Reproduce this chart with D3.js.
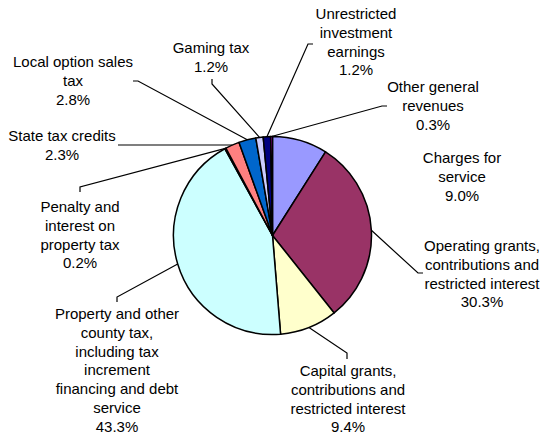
<!DOCTYPE html>
<html>
<head>
<meta charset="utf-8">
<script src="https://cdn.jsdelivr.net/npm/d3@7"></script>
<style>
  body { margin: 0; background: #fff; }
  text { font-family: "Liberation Sans", Arial, sans-serif; font-size: 15px; fill: #000; }
</style>
</head>
<body>
<svg width="542" height="435"></svg>
<script>
// slices, clockwise from 12 o'clock
var categories = [
  ["Charges for", "service"],
  ["Operating grants,", "contributions and", "restricted interest"],
  ["Capital grants,", "contributions and", "restricted interest"],
  ["Property and other", "county tax,", "including tax", "increment", "financing and debt", "service"],
  ["Penalty and", "interest on", "property tax"],
  ["State tax credits"],
  ["Local option sales", "tax"],
  ["Gaming tax"],
  ["Unrestricted", "investment", "earnings"],
  ["Other general", "revenues"]
];
var values = [9.0, 30.3, 9.4, 43.3, 0.2, 2.3, 2.8, 1.2, 1.2, 0.3];
var colors = ["#9999FF", "#993366", "#FFFFCC", "#CCFFFF", "#660066",
              "#FF8080", "#0066CC", "#CCCCFF", "#000080", "#FF00FF"];

// label placement: text centre x, first line y, and leader elbow points
var layout = [
  {x: 462, y: 164, leader: null},
  {x: 482, y: 252, leader: [[418, 273], [423, 273]]},
  {x: 348, y: 377, leader: [[347, 353], [347, 359]]},
  {x: 117, y: 320, leader: [[117, 297], [117, 302]]},
  {x: 80, y: 213, leader: [[80, 187], [80, 192]]},
  {x: 62, y: 142, leader: [[118, 145]]},
  {x: 73, y: 68, leader: [[138, 81], [133, 81]]},
  {x: 211, y: 54, leader: [[212, 84], [212, 79]]},
  {x: 356, y: 20, leader: [[308, 44], [313, 44]]},
  {x: 433, y: 93, leader: [[382, 106], [387, 106]]}
];

var svg = d3.select("svg"),
  cx = 272.5,
  cy = 235.5,
  radius = 99,
  lineH = 18.8;

var pie = d3.pie().sort(null).value(function(d) { return d; });
var arcs = pie(values);

var arc = d3.arc().innerRadius(0).outerRadius(radius);

var g = svg.append("g")
  .attr("transform", "translate(" + cx + "," + cy + ")");

g.selectAll("path.slice")
  .data(arcs)
  .enter()
  .append("path")
  .attr("class", "slice")
  .attr("d", arc)
  .attr("fill", function(d, i) { return colors[i]; })
  .attr("stroke", "#000")
  .attr("stroke-width", 1.5)
  .attr("stroke-linejoin", "round");

// leader lines from slice edge
arcs.forEach(function(d, i) {
  var lay = layout[i];
  if (!lay.leader) return;
  var a = (d.startAngle + d.endAngle) / 2;
  var pts = [[cx + radius * Math.sin(a), cy - radius * Math.cos(a)]].concat(lay.leader);
  svg.append("path")
    .attr("d", d3.line()(pts))
    .attr("fill", "none")
    .attr("stroke", "#000")
    .attr("stroke-width", 1.2);
});

var fmt = d3.format(".1f");

arcs.forEach(function(d, i) {
  var lay = layout[i];
  var lines = categories[i].concat([fmt(values[i]) + "%"]);
  var t = svg.append("text")
    .attr("text-anchor", "middle")
    .attr("dominant-baseline", "middle");
  lines.forEach(function(l, j) {
    t.append("tspan")
      .attr("x", lay.x)
      .attr("y", lay.y + j * lineH - 5)
      .text(l);
  });
});
</script>
</body>
</html>
